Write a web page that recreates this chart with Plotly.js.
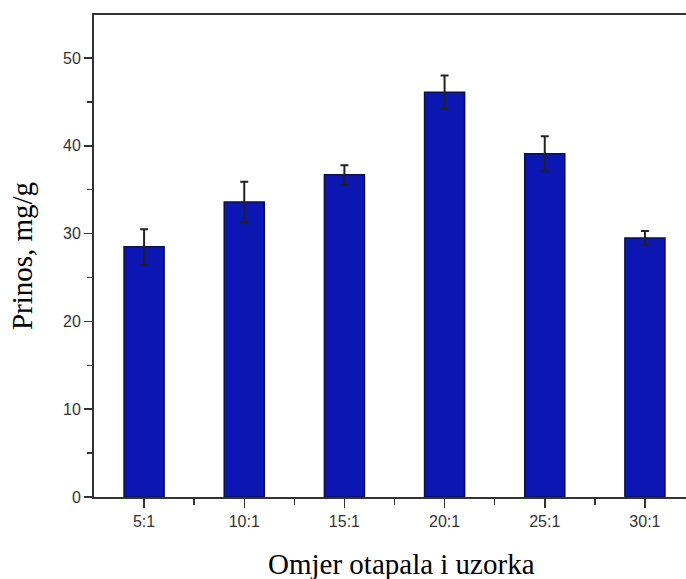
<!DOCTYPE html>
<html>
<head>
<meta charset="utf-8">
<script src="https://cdn.plot.ly/plotly-3.0.1.min.js"></script>
<style>html,body{margin:0;padding:0;background:#fff;}#chart{width:686px;height:579px;}</style>
</head>
<body>
<div id="chart"></div>
<script>
const categories = ["5:1", "10:1", "15:1", "20:1", "25:1", "30:1"];
const yieldValues = [28.5, 33.6, 36.7, 46.1, 39.1, 29.5];
const yieldErrors = [2.0, 2.3, 1.1, 1.9, 2.0, 0.8];
const yTickVals = [0, 10, 20, 30, 40, 50];

const positions = categories.map((c, i) => i);

const trace = {
  type: "bar",
  x: positions,
  y: yieldValues,
  width: 0.4,
  marker: {color: "rgb(12,22,178)", line: {color: "#0a0f50", width: 1.5}},
  error_y: {type: "data", array: yieldErrors, visible: true, color: "#222", thickness: 2, width: 4},
  hoverinfo: "skip"
};

const layout = {
  width: 686, height: 579,
  margin: {l: 94, r: 0, t: 15, b: 81.5, pad: 0},
  paper_bgcolor: "#fff", plot_bgcolor: "#fff",
  showlegend: false,
  xaxis: {
    range: [-0.5, 5.41],
    tickmode: "array", tickvals: positions, ticktext: categories,
    ticks: "outside", ticklen: 9, tickwidth: 1.5, tickcolor: "#333",
    minor: {tickmode: "array", tickvals: [0.5, 1.5, 2.5, 3.5, 4.5], ticks: "outside", ticklen: 6, tickwidth: 1.5, tickcolor: "#333"},
    showline: true, linecolor: "#333", linewidth: 2, mirror: true,
    showgrid: false, zeroline: false,
    tickfont: {family: "Liberation Sans, Arial, sans-serif", size: 16, color: "#333"}
  },
  yaxis: {
    range: [0, 54.9],
    tickmode: "array", tickvals: yTickVals,
    ticks: "outside", ticklen: 8, tickwidth: 1.5, tickcolor: "#333",
    minor: {tickmode: "array", tickvals: [5, 15, 25, 35, 45], ticks: "outside", ticklen: 5, tickwidth: 1.5, tickcolor: "#333"},
    showline: true, linecolor: "#333", linewidth: 2, mirror: false,
    showgrid: false, zeroline: false,
    tickfont: {family: "Liberation Sans, Arial, sans-serif", size: 16, color: "#333"},
    title: {text: "Prinos, mg/g", font: {family: "Liberation Serif, Times New Roman, serif", size: 29, color: "#000"}, standoff: 22}
  },
  annotations: [{
    text: "Omjer otapala i uzorka",
    xref: "paper", yref: "paper", x: 0.5186, y: -0.14,
    xanchor: "center", yanchor: "middle", showarrow: false,
    font: {family: "Liberation Serif, Times New Roman, serif", size: 29, color: "#000"}
  }]
};

Plotly.newPlot("chart", [trace], layout, {displayModeBar: false, staticPlot: true});
</script>
</body>
</html>
